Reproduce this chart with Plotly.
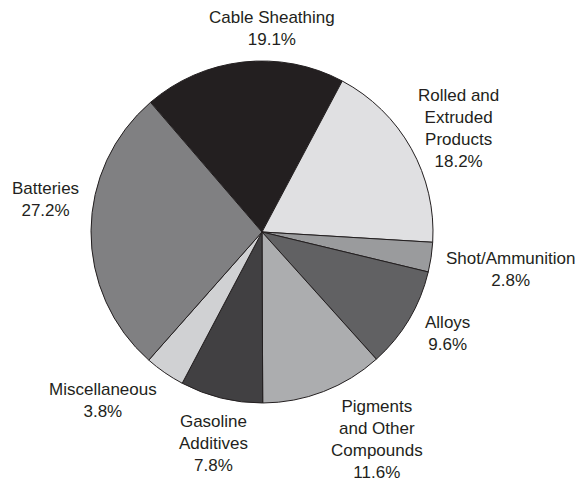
import plotly.graph_objects as go

categories = ["Cable Sheathing", "Rolled and<br>Extruded<br>Products", "Shot/Ammunition",
              "Alloys", "Pigments<br>and Other<br>Compounds", "Gasoline<br>Additives",
              "Miscellaneous", "Batteries"]
values = [19.1, 18.2, 2.8, 9.6, 11.6, 7.8, 3.8, 27.2]
colors = ["#231f20", "#e0e0e2", "#9a9b9d", "#616163", "#acadaf", "#414042", "#d0d1d3", "#808082"]

# label anchor positions (pixels in 580x484 canvas)
label_pos = [(272, 29), (458, 129), (510, 269), (447, 333), (377, 439), (213, 443), (103, 400), (45, 199)]

W, H = 580, 484
fig = go.Figure(go.Pie(
    labels=[c.replace("<br>", " ") for c in categories],
    values=values,
    sort=False,
    direction="clockwise",
    rotation=-40.7,
    marker=dict(colors=colors, line=dict(color="#231f20", width=1)),
    textinfo="none",
    hoverinfo="label+percent",
    showlegend=False,
    domain=dict(x=[91 / W, 433 / W], y=[81 / H, 423 / H]),
))

for cat, val, (px, py) in zip(categories, values, label_pos):
    fig.add_annotation(
        x=px / W, y=1 - py / H, xref="paper", yref="paper",
        text=f"{cat}<br>{val:.1f}%", showarrow=False,
        xanchor="center", yanchor="middle", align="center",
        font=dict(family="Liberation Sans, Arial, sans-serif", size=17, color="#231f20"),
    )

fig.update_layout(
    width=W, height=H,
    margin=dict(l=0, r=0, t=0, b=0),
    paper_bgcolor="white", plot_bgcolor="white",
)
fig.write_html("out.html")
